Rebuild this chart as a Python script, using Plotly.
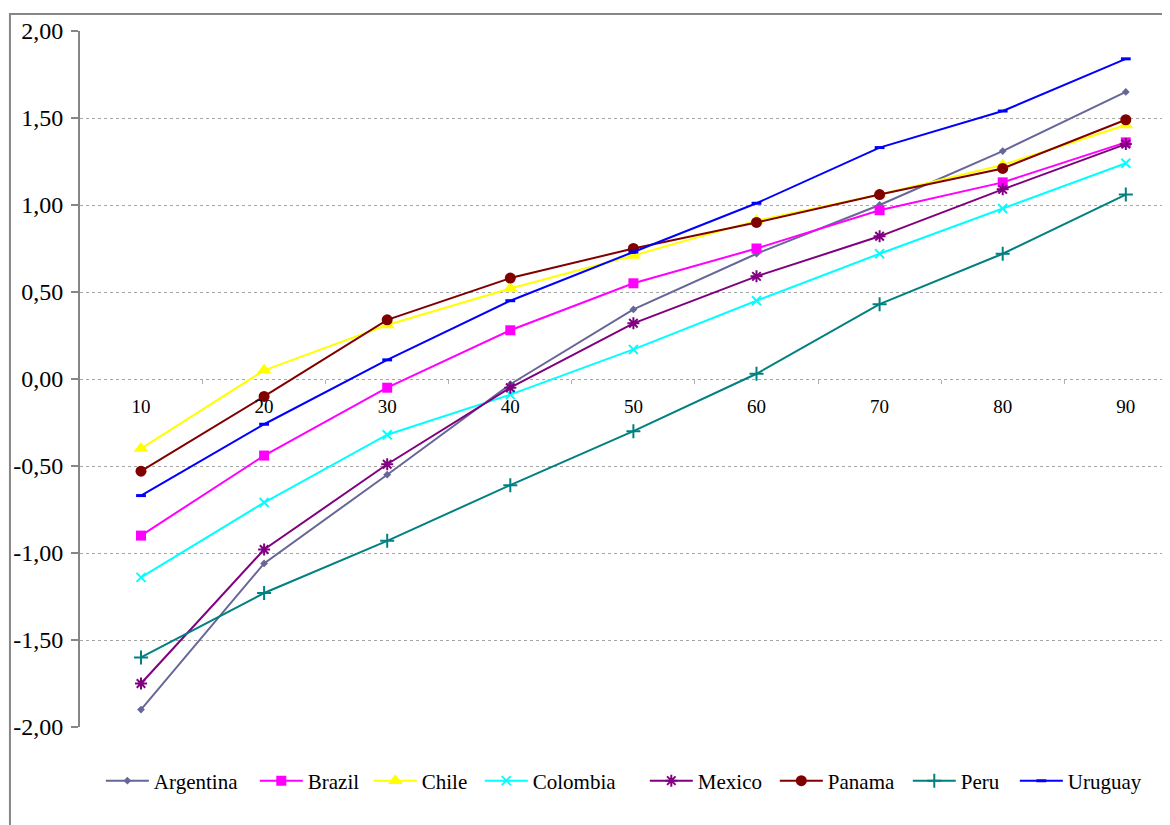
import plotly.graph_objects as go

categories = ["10", "20", "30", "40", "50", "60", "70", "80", "90"]

argentina = [-1.90, -1.06, -0.55, -0.03, 0.40, 0.72, 1.00, 1.31, 1.65]
brazil    = [-0.90, -0.44, -0.05, 0.28, 0.55, 0.75, 0.97, 1.13, 1.36]
chile     = [-0.40, 0.05, 0.31, 0.52, 0.71, 0.91, 1.06, 1.23, 1.46]
colombia  = [-1.14, -0.71, -0.32, -0.09, 0.17, 0.45, 0.72, 0.98, 1.24]
mexico    = [-1.75, -0.98, -0.49, -0.05, 0.32, 0.59, 0.82, 1.09, 1.35]
panama    = [-0.53, -0.10, 0.34, 0.58, 0.75, 0.90, 1.06, 1.21, 1.49]
peru      = [-1.60, -1.23, -0.93, -0.61, -0.30, 0.03, 0.43, 0.72, 1.06]
uruguay   = [-0.67, -0.26, 0.11, 0.45, 0.73, 1.01, 1.33, 1.54, 1.84]

y_ticks = [-2.0, -1.5, -1.0, -0.5, 0.0, 0.5, 1.0, 1.5, 2.0]
y_tick_labels = ["-2,00", "-1,50", "-1,00", "-0,50", "0,00", "0,50", "1,00", "1,50", "2,00"]

series = [
    ("Argentina", argentina, "#666699", dict(symbol="diamond", size=6)),
    ("Brazil", brazil, "#FF00FF", dict(symbol="square", size=10)),
    ("Chile", chile, "#FFFF00", dict(symbol="triangle-up", size=13)),
    ("Colombia", colombia, "#00FFFF", dict(symbol="x-thin-open", size=9, line=dict(width=2, color="#00FFFF"))),
    ("Mexico", mexico, "#800080", dict(symbol="asterisk-open", size=10, line=dict(width=2, color="#800080"))),
    ("Panama", panama, "#800000", dict(symbol="circle", size=11)),
    ("Peru", peru, "#008080", dict(symbol="cross-thin-open", size=10, line=dict(width=2, color="#008080"))),
    ("Uruguay", uruguay, "#0000FF", dict(symbol="line-ew-open", size=7, line=dict(width=3, color="#0000FF"))),
]

# left edge (paper fraction) of each legend entry along the bottom row
legend_x = [0.0190, 0.1592, 0.2630, 0.3641, 0.5144, 0.6328, 0.7539, 0.8514]

font_family = "Liberation Serif, Times New Roman, serif"

fig = go.Figure()
legend_layouts = {}
for i, (name, vals, color, marker) in enumerate(series):
    m = dict(color=color)
    m.update(marker)
    lname = "legend" if i == 0 else f"legend{i + 1}"
    fig.add_trace(go.Scatter(
        x=categories, y=vals, name=name, mode="lines+markers",
        line=dict(color=color, width=2), marker=m, legend=lname,
    ))
    legend_layouts[lname] = dict(
        orientation="h", x=legend_x[i], xanchor="left", y=-0.0776, yanchor="middle",
        font=dict(family=font_family, size=21, color="black"),
        bgcolor="rgba(0,0,0,0)", itemwidth=43,
    )

fig.update_layout(
    width=1170, height=825,
    margin=dict(l=72, r=0, t=23, b=106),
    paper_bgcolor="white", plot_bgcolor="white",
    font=dict(family=font_family, size=20, color="black"),
    showlegend=True,
    xaxis=dict(
        type="category", range=[-0.4955, 8.424],
        anchor="free", position=0.5,
        tickson="boundaries", ticks="outside", ticklen=4, tickcolor="#b0b0b0",
        showline=False, showgrid=False, zeroline=False,
        ticklabelstandoff=14,
        tickfont=dict(family=font_family, size=19, color="black"),
    ),
    yaxis=dict(
        range=[-2, 2], tickvals=y_ticks, ticktext=y_tick_labels,
        showgrid=True, gridcolor="#a6a6a6", griddash="dot", gridwidth=1,
        zeroline=False,
        showline=True, linecolor="#868686", linewidth=2,
        ticks="outside", ticklen=7, tickcolor="#868686", tickwidth=1.5,
        ticklabelstandoff=3,
        tickfont=dict(family=font_family, size=24, color="black"),
    ),
    shapes=[dict(type="rect", xref="paper", yref="paper",
                 x0=-0.0638, x1=1.02, y0=-0.16, y1=1.0244,
                 line=dict(color="#868686", width=2), fillcolor="rgba(0,0,0,0)", layer="below")],
)
fig.update_layout(**legend_layouts)

fig.write_html("out.html")
